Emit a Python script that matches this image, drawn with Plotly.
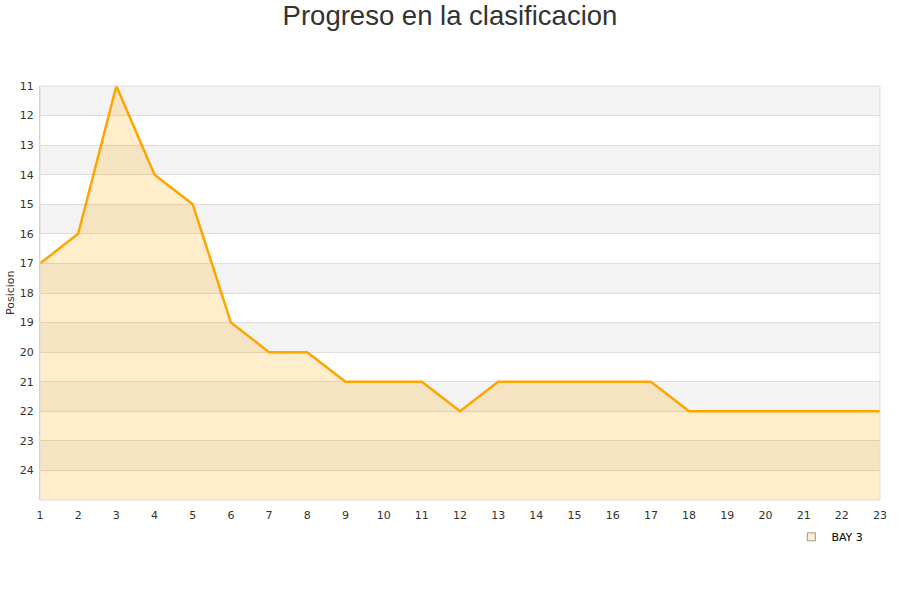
import plotly.graph_objects as go

jornadas = list(range(1, 24))
posiciones = [17, 16, 11, 14, 15, 19, 20, 20, 21, 21, 21, 22, 21, 21, 21, 21, 21, 22, 22, 22, 22, 22, 22]
equipo = "BAY 3"
y_ticks = list(range(11, 25))
y_min, y_max = 11, 25

fig = go.Figure()

# baseline for fill
fig.add_trace(go.Scatter(x=jornadas, y=[y_max] * len(jornadas), mode="lines",
                         line=dict(width=0, color="rgba(0,0,0,0)"),
                         showlegend=False, hoverinfo="skip"))
fig.add_trace(go.Scatter(x=jornadas, y=posiciones, mode="lines",
                         line=dict(color="#FFA500", width=2.5),
                         fill="tonexty", fillcolor="rgba(255,165,0,0.2)",
                         showlegend=False, name=equipo))
# legend-only marker
fig.add_trace(go.Scatter(x=[None], y=[None], mode="markers", name=equipo,
                         marker=dict(symbol="square", size=8,
                                     color="rgba(255,225,170,0.6)",
                                     line=dict(color="#999", width=1))))

shapes = []
for v in range(y_min, y_max, 2):
    shapes.append(dict(type="rect", xref="paper", yref="y", x0=0, x1=1,
                       y0=v, y1=v + 1, fillcolor="#f3f3f3", line=dict(width=0),
                       layer="below"))
shapes.append(dict(type="rect", xref="paper", yref="paper", x0=0, x1=1, y0=0, y1=1,
                   line=dict(color="#dddddd", width=1), layer="above"))

fig.update_layout(
    width=900, height=600,
    paper_bgcolor="white", plot_bgcolor="white",
    margin=dict(l=40, r=20, t=86, b=100, autoexpand=False),
    title=dict(text="Progreso en la clasificacion", x=0.5, xanchor="center",
               xref="container", yref="container",
               y=0.975, yanchor="middle",
               font=dict(family="Liberation Sans, Arial", size=27.5, color="#333333")),
    shapes=shapes,
    annotations=[dict(text="Posicion", xref="paper", yref="paper",
                      x=-0.0357, y=0.5, xanchor="center", yanchor="middle",
                      textangle=-90, showarrow=False,
                      font=dict(family="DejaVu Sans", size=11, color="#333333"))],
    xaxis=dict(range=[1, 23], tickvals=jornadas, showgrid=False, zeroline=False,
               tickfont=dict(family="DejaVu Sans", size=11, color="#333333"),
               showline=False, ticks="", automargin=False, ticklabelstandoff=7),
    yaxis=dict(range=[y_max, y_min], tickvals=y_ticks, showgrid=True,
               gridcolor="#dddddd", gridwidth=1, zeroline=False,
               tickfont=dict(family="DejaVu Sans", size=11, color="#333333"),
               showline=True, linecolor="#cccccc", ticks="", automargin=False,
               ticklabelstandoff=3),
    legend=dict(x=0.8945, y=-0.089, xanchor="left", yanchor="middle",
                font=dict(family="DejaVu Sans", size=11, color="#000000"),
                bgcolor="rgba(0,0,0,0)", itemwidth=30),
    showlegend=True,
)

fig.write_html("out.html", config={"displayModeBar": False},
               post_script="document.body.style.margin='0';")
